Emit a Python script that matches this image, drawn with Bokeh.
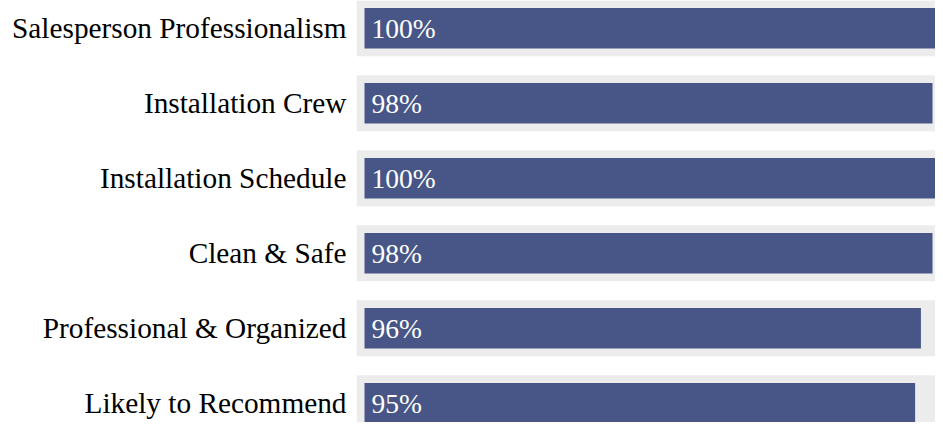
from bokeh.plotting import figure
from bokeh.models import Range1d, FixedTicker, ColumnDataSource
from bokeh.core.properties import value
from bokeh.embed import file_html
from bokeh.resources import INLINE

categories = ["Salesperson Professionalism", "Installation Crew", "Installation Schedule",
              "Clean & Safe", "Professional & Organized", "Likely to Recommend"]
scores = [100, 98, 100, 98, 96, 95]
score_labels = [f"{v}%" for v in scores]

W, H = 935, 422
rows = list(range(len(categories)))
px_x = 5.796          # pixels per percentage point
px_y = 75.0           # pixels per row
pad = 8 / px_x
frame_left = 356
bar_left_px = 364
top0 = -27.8 / px_y

src = ColumnDataSource(dict(y=rows, v=scores, lab=score_labels,
                            tl=[-pad] * len(rows), tr=[100 + pad] * len(rows),
                            zero=[0] * len(rows)))

p = figure(width=W, height=H, output_backend="svg", toolbar_location=None,
           x_range=Range1d(-(bar_left_px - frame_left) / px_x, (W - bar_left_px) / px_x),
           y_range=Range1d(top0 + H / px_y, top0),
           min_border_left=frame_left, min_border_right=0, min_border_top=0, min_border_bottom=0)
p.outline_line_color = None
p.grid.visible = False
p.xaxis.visible = False
p.background_fill_color = "white"
p.border_fill_color = "white"

p.hbar(y="y", left="tl", right="tr", height=56.0 / px_y, source=src,
       fill_color="#ececec", line_color=None)
p.hbar(y="y", left="zero", right="v", height=40.5 / px_y, source=src,
       fill_color="#475686", line_color=None)
p.text(x="zero", y="y", text="lab", source=src, x_offset=7, y_offset=0,
       text_color="white", text_font=value("Liberation Serif"), text_font_size="27.5px",
       text_baseline="middle", text_align="left")

ya = p.yaxis[0]
ya.ticker = FixedTicker(ticks=rows)
ya.major_label_overrides = {i: c for i, c in enumerate(categories)}
ya.axis_line_color = None
ya.major_tick_line_color = None
ya.minor_tick_line_color = None
ya.major_tick_out = 0
ya.major_tick_in = 0
ya.major_label_standoff = 10
ya.major_label_text_font = "Liberation Serif"
ya.major_label_text_font_size = "29.3px"
ya.major_label_text_color = "#000000"

open("out.html", "w").write(file_html(p, INLINE))
